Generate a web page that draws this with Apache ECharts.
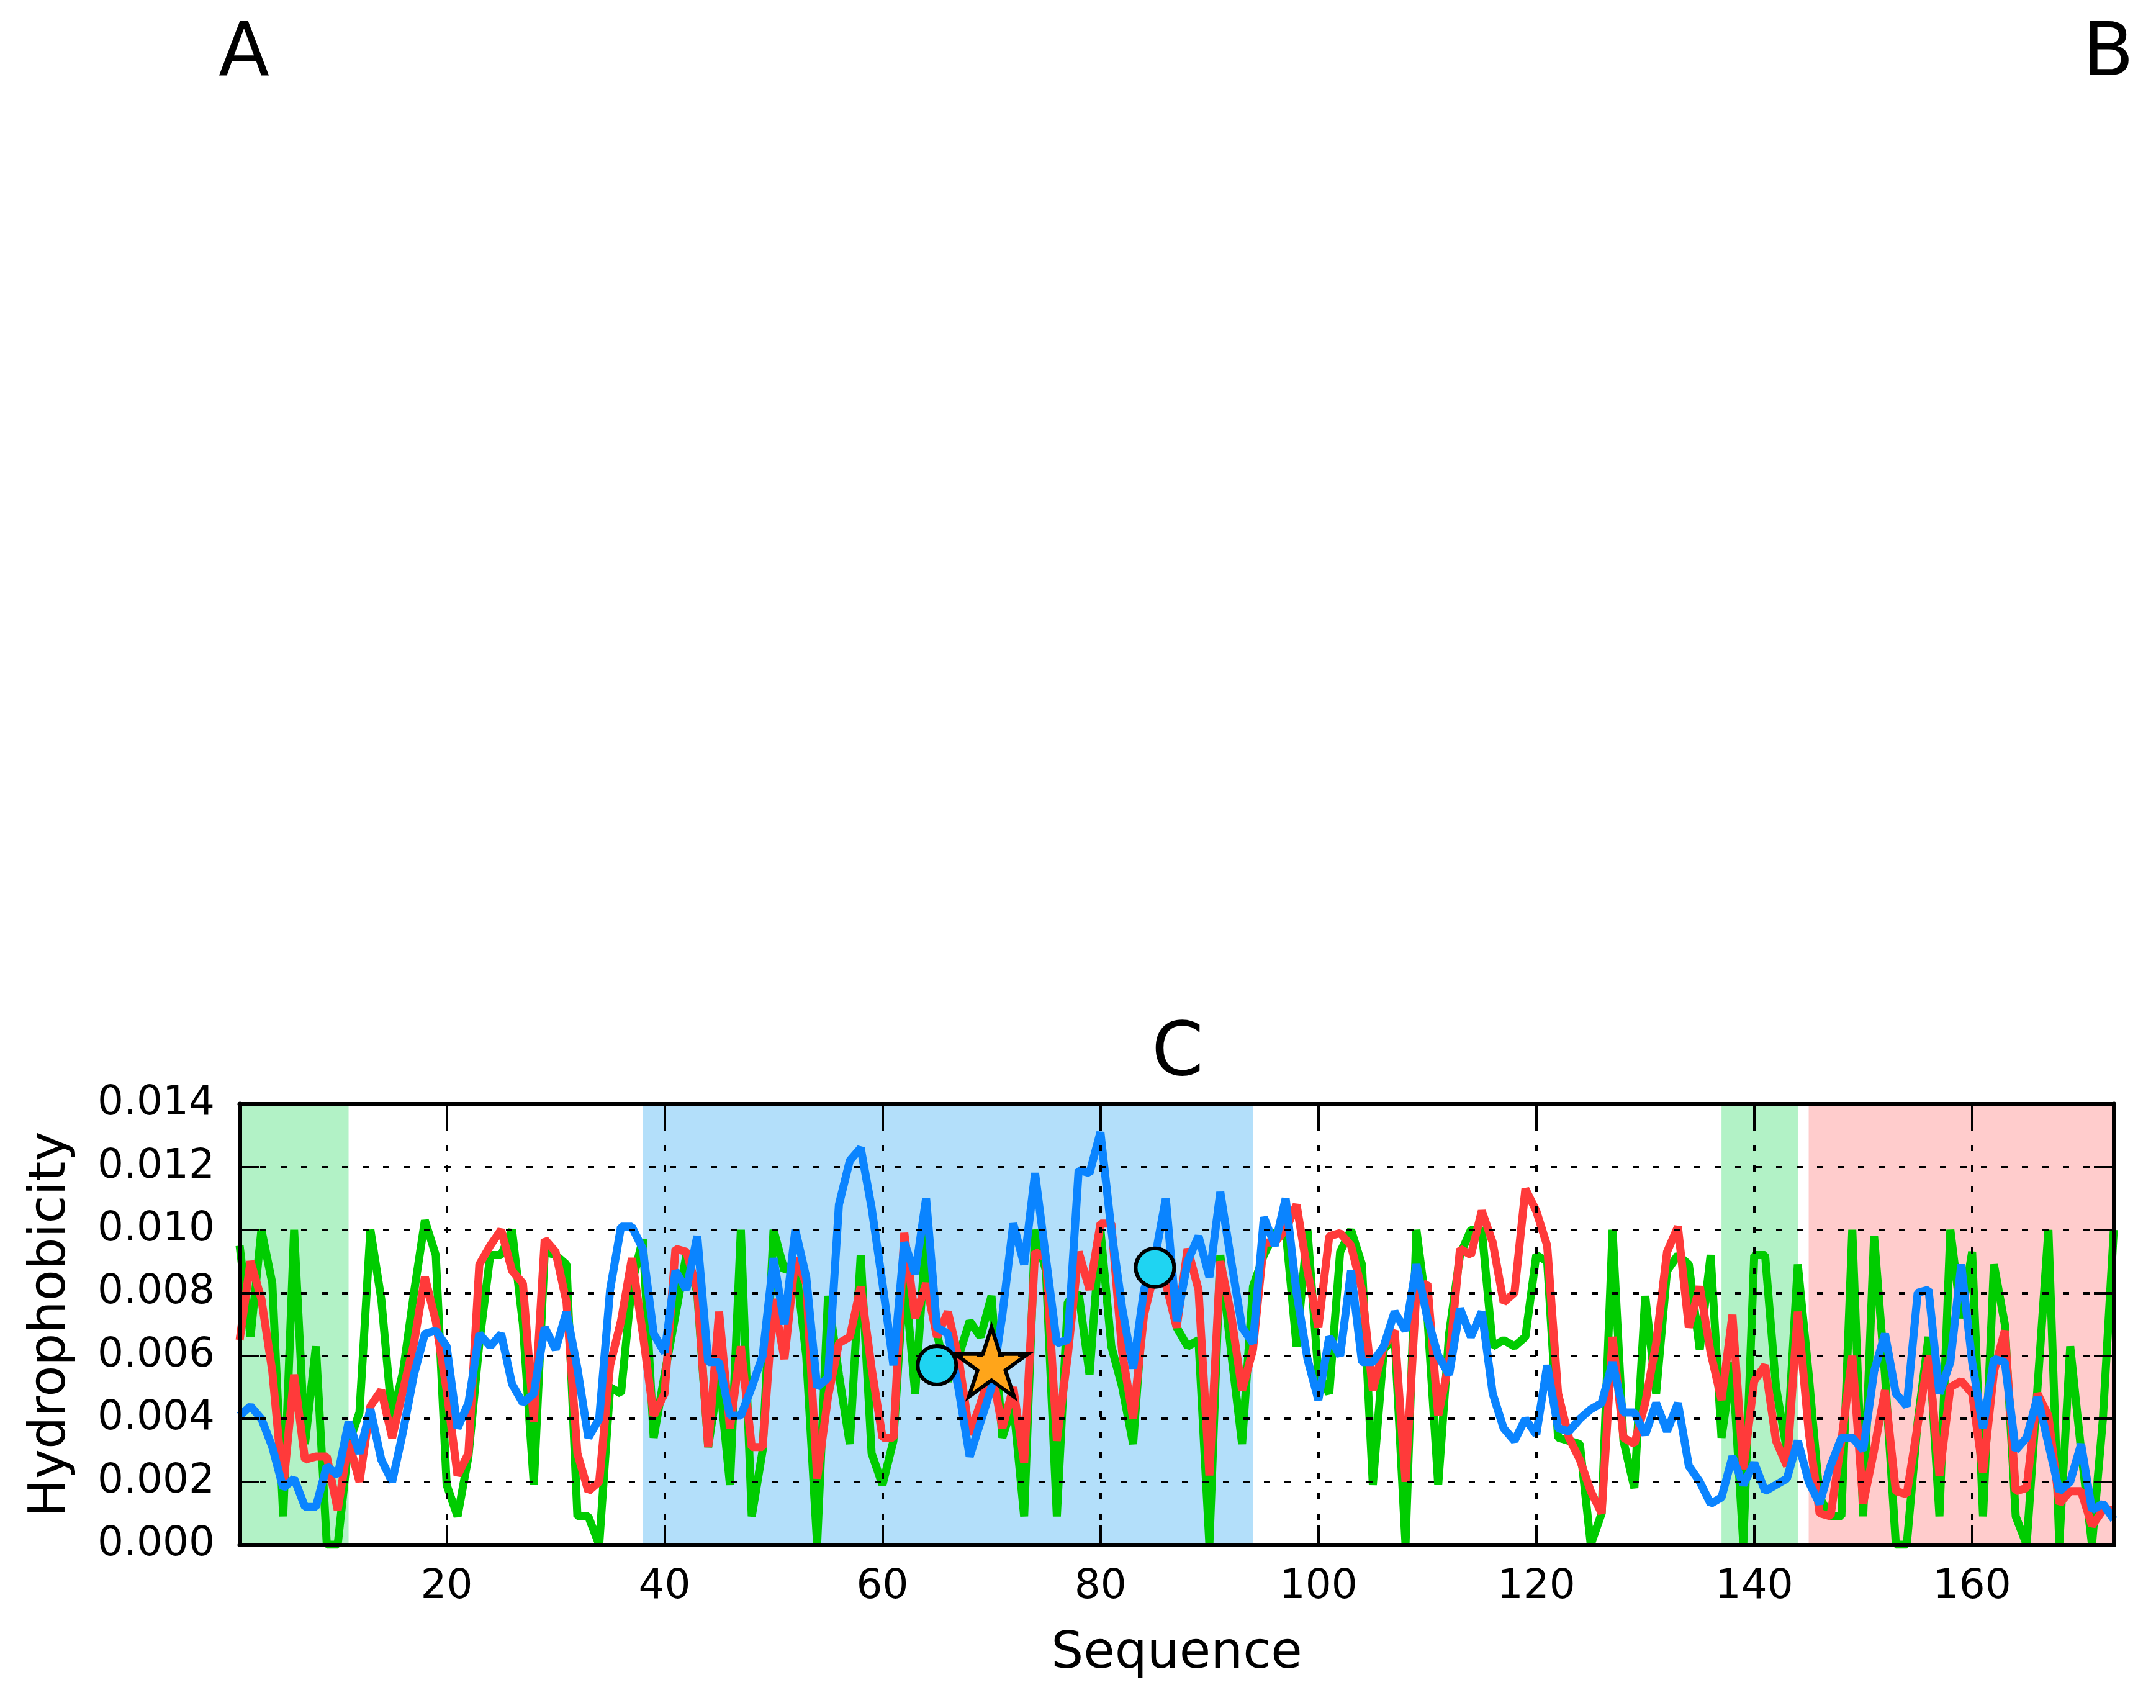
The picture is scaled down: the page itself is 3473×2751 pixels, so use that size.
<!DOCTYPE html>
<html lang="en">
<head>
    <meta charset="UTF-8">
    <title>Hydrophobicity</title>
    <script src="https://cdn.jsdelivr.net/npm/echarts@6/dist/echarts.min.js"></script>
    <style>
        html,body{
            height:100%;
            width:100%;
            margin:0;
            padding:0;
            background:#fff;
        }
    </style>
</head>
<body>
    <div id="main" style="width:100%;height:100%"></div>
    <script>
        // residue values, sequence 1..173
        var green = [
            0.0095,0.0066,0.0100,0.0083,0.0009,0.0100,0.0032,0.0063,0.0000,0.0000,
            0.0032,0.0042,0.0100,0.0078,0.0040,0.0055,0.0080,0.0103,0.0092,0.0019,
            0.0009,0.0028,0.0064,0.0092,0.0092,0.0100,0.0070,0.0019,0.0093,0.0092,
            0.0089,0.0009,0.0009,0.0000,0.0050,0.0048,0.0083,0.0097,0.0034,0.0054,
            0.0073,0.0092,0.0080,0.0031,0.0054,0.0019,0.0100,0.0009,0.0030,0.0100,
            0.0087,0.0090,0.0060,0.0000,0.0079,0.0054,0.0032,0.0092,0.0029,0.0019,
            0.0033,0.0087,0.0048,0.0099,0.0067,0.0052,0.0060,0.0071,0.0066,0.0079,
            0.0034,0.0045,0.0009,0.0100,0.0087,0.0009,0.0077,0.0080,0.0054,0.0100,
            0.0063,0.0050,0.0032,0.0079,0.0093,0.0084,0.0069,0.0063,0.0065,0.0000,
            0.0092,0.0061,0.0032,0.0082,0.0092,0.0099,0.0100,0.0063,0.0100,0.0054,
            0.0048,0.0093,0.0100,0.0089,0.0019,0.0062,0.0066,0.0000,0.0100,0.0073,
            0.0019,0.0067,0.0092,0.0100,0.0100,0.0063,0.0065,0.0063,0.0066,0.0092,
            0.0090,0.0034,0.0033,0.0032,0.0000,0.0010,0.0100,0.0033,0.0018,0.0079,
            0.0048,0.0087,0.0092,0.0089,0.0062,0.0092,0.0034,0.0058,0.0000,0.0092,
            0.0092,0.0050,0.0030,0.0089,0.0054,0.0015,0.0009,0.0009,0.0100,0.0009,
            0.0098,0.0054,0.0000,0.0000,0.0039,0.0066,0.0009,0.0100,0.0072,0.0093,
            0.0009,0.0089,0.0070,0.0009,0.0000,0.0050,0.0100,0.0000,0.0063,0.0030,
            0.0000,0.0040,0.0100
        ];
        var red = [
            0.0065,0.0090,0.0078,0.0055,0.0018,0.0054,0.0027,0.0028,0.0028,0.0011,
            0.0033,0.0020,0.0044,0.0049,0.0034,0.0049,0.0064,0.0085,0.0071,0.0049,
            0.0022,0.0029,0.0089,0.0095,0.0100,0.0087,0.0083,0.0039,0.0097,0.0093,
            0.0077,0.0029,0.0017,0.0020,0.0057,0.0071,0.0091,0.0067,0.0041,0.0048,
            0.0094,0.0093,0.0081,0.0031,0.0074,0.0037,0.0063,0.0031,0.0031,0.0078,
            0.0059,0.0091,0.0083,0.0021,0.0047,0.0064,0.0066,0.0082,0.0056,0.0034,
            0.0034,0.0099,0.0072,0.0083,0.0066,0.0074,0.0059,0.0035,0.0045,0.0056,
            0.0037,0.0050,0.0026,0.0093,0.0091,0.0033,0.0060,0.0093,0.0081,0.0102,
            0.0102,0.0061,0.0040,0.0073,0.0087,0.0083,0.0069,0.0094,0.0081,0.0022,
            0.0090,0.0073,0.0049,0.0062,0.0096,0.0096,0.0100,0.0108,0.0087,0.0069,
            0.0098,0.0099,0.0095,0.0081,0.0049,0.0063,0.0068,0.0020,0.0081,0.0083,
            0.0041,0.0058,0.0094,0.0092,0.0106,0.0096,0.0077,0.0080,0.0113,0.0106,
            0.0095,0.0048,0.0034,0.0027,0.0017,0.0010,0.0066,0.0034,0.0032,0.0045,
            0.0064,0.0093,0.0101,0.0069,0.0082,0.0061,0.0046,0.0073,0.0024,0.0052,
            0.0057,0.0033,0.0025,0.0074,0.0036,0.0010,0.0009,0.0033,0.0060,0.0013,
            0.0030,0.0049,0.0017,0.0016,0.0038,0.0060,0.0022,0.0050,0.0052,0.0048,
            0.0023,0.0055,0.0068,0.0017,0.0018,0.0048,0.0041,0.0013,0.0017,0.0017,
            0.0006,0.0011,0.0011
        ];
        var blue = [
            0.0041,0.0044,0.0040,0.0031,0.0018,0.0021,0.0012,0.0012,0.0025,0.0022,
            0.0039,0.0029,0.0043,0.0027,0.0020,0.0036,0.0054,0.0067,0.0068,0.0063,
            0.0037,0.0045,0.0067,0.0063,0.0067,0.0051,0.0045,0.0048,0.0069,0.0062,
            0.0074,0.0056,0.0034,0.0040,0.0081,0.0101,0.0101,0.0094,0.0067,0.0061,
            0.0087,0.0081,0.0098,0.0058,0.0058,0.0041,0.0041,0.0050,0.0060,0.0091,
            0.0070,0.0100,0.0085,0.0050,0.0053,0.0108,0.0122,0.0126,0.0107,0.0083,
            0.0057,0.0096,0.0086,0.0110,0.0069,0.0067,0.0049,0.0028,0.0039,0.0050,
            0.0073,0.0102,0.0089,0.0118,0.0091,0.0064,0.0065,0.0119,0.0118,0.0131,
            0.0100,0.0075,0.0056,0.0081,0.0091,0.0110,0.0071,0.0090,0.0098,0.0085,
            0.0112,0.0090,0.0069,0.0064,0.0104,0.0095,0.0110,0.0080,0.0059,0.0046,
            0.0066,0.0060,0.0087,0.0058,0.0058,0.0063,0.0074,0.0068,0.0089,0.0072,
            0.0060,0.0054,0.0075,0.0066,0.0074,0.0048,0.0037,0.0033,0.0040,0.0035,
            0.0057,0.0037,0.0036,0.0040,0.0043,0.0045,0.0058,0.0042,0.0042,0.0035,
            0.0045,0.0036,0.0045,0.0025,0.0020,0.0013,0.0015,0.0028,0.0019,0.0026,
            0.0017,0.0019,0.0021,0.0033,0.0020,0.0013,0.0025,0.0034,0.0034,0.0030,
            0.0055,0.0067,0.0048,0.0044,0.0080,0.0081,0.0048,0.0058,0.0089,0.0058,
            0.0037,0.0059,0.0058,0.0030,0.0034,0.0047,0.0032,0.0017,0.0020,0.0032,
            0.0011,0.0013,0.0008
        ];
        // shaded regions [from, to, colour]
        var regions = [
            [1, 11, '#b2f2c6'],
            [38, 94, '#b3dffa'],
            [137, 144, '#b2f2c6'],
            [145, 173, '#ffcccc']
        ];
        var circles = [[65, 0.0057], [85, 0.0088]];
        var stars = [[70, 0.0058]];
        var seqMin = 1, seqMax = 173;

        var font = 'DejaVu Sans';
        var starPath = 'path://M50 0 L61.17 34.63 L97.55 34.55 L68.07 55.87 L79.39 90.45 L50 69 L20.61 90.45 L31.93 55.87 L2.45 34.55 L38.83 34.63 Z';

        function pairs(arr) {
            return arr.map(function (v, i) { return [seqMin + i, v]; });
        }

        var gridLine = {show: true, lineStyle: {color: '#000', width: 4, type: [10, 23]}};
        var frame = {show: true, onZero: false, lineStyle: {color: '#000', width: 7}};
        var tick = {show: true, inside: true, length: 32, lineStyle: {color: '#000', width: 4}};

        let myChart = echarts.init(document.getElementById('main'));
        var option = {
            backgroundColor: '#fff',
            animation: false,
            graphic: [
                {type: 'text', left: 352, top: 30, style: {text: 'A', font: '120px "DejaVu Sans"', fill: '#000'}},
                {type: 'text', left: 3355, top: 30, style: {text: 'B', font: '120px "DejaVu Sans"', fill: '#000'}},
                {type: 'text', left: 1855, top: 1640, style: {text: 'C', font: '120px "DejaVu Sans"', fill: '#000'}}
            ],
            grid: {left: 386, right: 68, top: 1778, bottom: 263, containLabel: false},
            xAxis: [{
                type: 'value', min: seqMin, max: seqMax, splitNumber: 8, z: 10,
                name: 'Sequence', nameLocation: 'middle', nameGap: 136,
                nameTextStyle: {fontFamily: font, fontSize: 82, color: '#000'},
                axisLine: frame, axisTick: tick, splitLine: gridLine,
                axisLabel: {fontFamily: font, fontSize: 66, color: '#000', margin: 36,
                    showMinLabel: false, showMaxLabel: false}
            }, {
                type: 'value', position: 'top', min: seqMin, max: seqMax, splitNumber: 8, z: 10,
                axisLine: frame, axisTick: tick, splitLine: {show: false}, axisLabel: {show: false}
            }],
            yAxis: [{
                type: 'value', min: 0, max: 0.014, interval: 0.002, z: 10,
                name: 'Hydrophobicity', nameLocation: 'middle', nameGap: 262,
                nameTextStyle: {fontFamily: font, fontSize: 82, color: '#000'},
                axisLine: frame, axisTick: tick, splitLine: gridLine,
                axisLabel: {fontFamily: font, fontSize: 66, color: '#000', margin: 40,
                    formatter: function (v) { return v.toFixed(3); }}
            }, {
                type: 'value', position: 'right', min: 0, max: 0.014, interval: 0.002, z: 10,
                axisLine: frame, axisTick: tick, splitLine: {show: false}, axisLabel: {show: false}
            }],
            series: [{
                type: 'line', z: 1, data: [], silent: true,
                markArea: {
                    silent: true,
                    data: regions.map(function (r) {
                        return [{xAxis: r[0], itemStyle: {color: r[2], opacity: 1}}, {xAxis: r[1]}];
                    })
                }
            }, {
                name: 'green', type: 'line', data: pairs(green), showSymbol: false, z: 2,
                lineStyle: {color: '#00cc00', width: 13}, itemStyle: {color: '#00cc00'}
            }, {
                name: 'red', type: 'line', data: pairs(red), showSymbol: false, z: 3,
                lineStyle: {color: '#ff3a3a', width: 13}, itemStyle: {color: '#ff3a3a'}
            }, {
                name: 'blue', type: 'line', data: pairs(blue), showSymbol: false, z: 4,
                lineStyle: {color: '#0a84ff', width: 13}, itemStyle: {color: '#0a84ff'}
            }, {
                type: 'scatter', data: circles, symbol: 'circle', symbolSize: 62, z: 5,
                itemStyle: {color: '#1fd4f2', borderColor: '#000', borderWidth: 6, opacity: 1}
            }, {
                type: 'scatter', data: stars, symbol: starPath, symbolSize: [118, 112], z: 6,
                itemStyle: {color: '#ffa51a', borderColor: '#000', borderWidth: 6, opacity: 1}
            }]
        };
        myChart.setOption(option);
    </script>
</body>
</html>
